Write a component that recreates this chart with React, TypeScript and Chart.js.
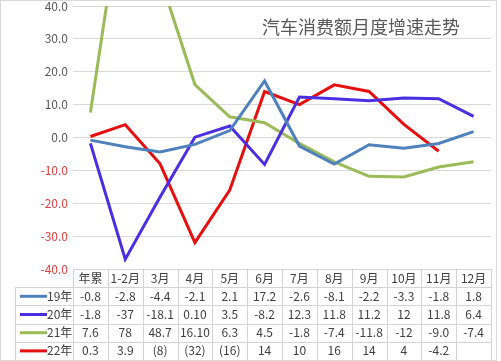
import React, { useEffect, useRef } from "react";
import { Chart, registerables } from "chart.js";

Chart.register(...registerables);

const categories = ["年累", "1-2月", "3月", "4月", "5月", "6月", "7月", "8月", "9月", "10月", "11月", "12月"];
const seriesNames = ["19年", "20年", "21年", "22年"];
const colors = ["#4f81bd", "#4a2fe0", "#9bbb59", "#e50f0f"];
const y19 = [-0.8, -2.8, -4.4, -2.1, 2.1, 17.2, -2.6, -8.1, -2.2, -3.3, -1.8, 1.8];
const y20 = [-1.8, -37, -18.1, 0.1, 3.5, -8.2, 12.3, 11.8, 11.2, 12, 11.8, 6.4];
const y21 = [7.6, 78, 48.7, 16.1, 6.3, 4.5, -1.8, -7.4, -11.8, -12, -9.0, -7.4];
const y22 = [0.3, 3.9, -8, -32, -16, 14, 10, 16, 14, 4, -4.2, null];
const t19 = ["-0.8", "-2.8", "-4.4", "-2.1", "2.1", "17.2", "-2.6", "-8.1", "-2.2", "-3.3", "-1.8", "1.8"];
const t20 = ["-1.8", "-37", "-18.1", "0.10", "3.5", "-8.2", "12.3", "11.8", "11.2", "12", "11.8", "6.4"];
const t21 = ["7.6", "78", "48.7", "16.10", "6.3", "4.5", "-1.8", "-7.4", "-11.8", "-12", "-9.0", "-7.4"];
const t22 = ["0.3", "3.9", "(8)", "(32)", "(16)", "14", "10", "16", "14", "4", "-4.2", ""];
const title = "汽车消费额月度增速走势";
const yMin = -40;
const yMax = 40;
const yStep = 10;

const FONT = '"Noto Sans CJK SC", "Noto Sans", sans-serif';

const tablePlugin = {
  id: "dataTable",
  afterDraw(chart: any) {
    const ctx = chart.ctx;
    const xs = chart.scales.x;
    const area = chart.chartArea;
    const spacing = xs.getPixelForValue(1) - xs.getPixelForValue(0);
    const top = area.bottom;
    const bottom = chart.height - 1;
    const rowH = (bottom - top) / 5;
    const labelLeft = 15;
    const tableLeft = xs.getPixelForValue(0) - spacing / 2;
    const tableRight = xs.getPixelForValue(categories.length - 1) + spacing / 2;
    const rows = [t19, t20, t21, t22];
    ctx.save();
    ctx.strokeStyle = "#d4d4d4";
    ctx.lineWidth = 1;
    ctx.beginPath();
    ctx.moveTo(tableLeft, Math.round(top) + 0.5);
    ctx.lineTo(tableRight, Math.round(top) + 0.5);
    for (let k = 1; k <= 5; k++) {
      const y = Math.round(top + rowH * k) + 0.5;
      ctx.moveTo(labelLeft, y);
      ctx.lineTo(tableRight, y);
    }
    ctx.moveTo(labelLeft + 0.5, Math.round(top + rowH));
    ctx.lineTo(labelLeft + 0.5, Math.round(bottom) + 0.5);
    for (let i = 0; i <= categories.length; i++) {
      const x = Math.round(tableLeft + spacing * i) + 0.5;
      ctx.moveTo(x, Math.round(top));
      ctx.lineTo(x, Math.round(bottom) + 0.5);
    }
    ctx.stroke();

    ctx.fillStyle = "#404040";
    ctx.font = `12px ${FONT}`;
    ctx.textAlign = "center";
    ctx.textBaseline = "middle";
    categories.forEach((c, i) => {
      ctx.fillText(c, xs.getPixelForValue(i), top + rowH / 2);
    });
    rows.forEach((r, j) => {
      const cy = top + rowH * (j + 1.5);
      r.forEach((v, i) => {
        ctx.fillText(v, xs.getPixelForValue(i), cy);
      });
    });
    ctx.textAlign = "left";
    seriesNames.forEach((n, j) => {
      const cy = top + rowH * (j + 1.5);
      ctx.strokeStyle = colors[j];
      ctx.lineWidth = 3;
      ctx.beginPath();
      ctx.moveTo(20, cy);
      ctx.lineTo(47, cy);
      ctx.stroke();
      ctx.fillText(n, 47, cy);
    });

    ctx.fillStyle = "#595959";
    ctx.font = `18px ${FONT}`;
    ctx.textAlign = "left";
    ctx.fillText(title, 262, 27);

    ctx.strokeStyle = "#d9d9d9";
    ctx.lineWidth = 1;
    ctx.strokeRect(0.5, 0.5, 496, 360);
    ctx.restore();
  },
};

export default function App() {
  const ref = useRef<HTMLCanvasElement>(null);
  useEffect(() => {
    document.body.style.margin = "0";
    const all = [y19, y20, y21, y22];
    const chart = new Chart(ref.current as HTMLCanvasElement, {
      type: "line",
      data: {
        labels: categories,
        datasets: all.map((d, i) => ({
          label: seriesNames[i],
          data: d,
          borderColor: colors[i],
          backgroundColor: colors[i],
          borderWidth: 3,
          pointRadius: 0,
          tension: 0,
          clip: 0,
        })),
      },
      options: {
        animation: false,
        responsive: false,
        devicePixelRatio: 1,
        layout: { padding: { left: 0, right: 10, top: 6, bottom: 0 } },
        plugins: { legend: { display: false }, tooltip: { enabled: false } },
        scales: {
          x: {
            offset: true,
            ticks: { display: false },
            grid: { display: false },
            border: { display: false },
            afterFit: (s: any) => {
              s.height = 92;
              s.paddingLeft = 0;
              s.paddingRight = 0;
            },
          },
          y: {
            min: yMin,
            max: yMax,
            ticks: {
              stepSize: yStep,
              padding: 5,
              font: { size: 12, family: FONT },
              color: (c: any) => (c.tick && c.tick.value < 0 ? "#e04040" : "#595959"),
              callback: (v: any) => Number(v).toFixed(1),
            },
            grid: { color: "#d9d9d9", drawTicks: false },
            border: { display: false },
            afterFit: (s: any) => {
              s.width = 73;
              s.paddingTop = 0;
              s.paddingBottom = 0;
            },
          },
        },
      },
      plugins: [tablePlugin],
    });
    return () => chart.destroy();
  }, []);
  return (
    <div style={{ position: "absolute", left: 0, top: 0, width: 501, height: 361 }}>
      <canvas ref={ref} width={501} height={361} style={{ display: "block" }} />
    </div>
  );
}
